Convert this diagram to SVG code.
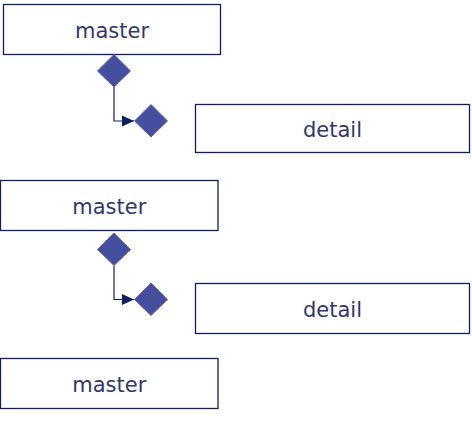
<svg xmlns="http://www.w3.org/2000/svg" width="472" height="422" viewBox="0 0 472 422">
<style>
.box{fill:#ffffff;stroke:#0f2060;stroke-width:1.3}
.lbl{font-family:"DejaVu Sans",Verdana,sans-serif;font-size:21px;fill:#31386a;text-anchor:middle}
.dia{fill:#454f9e;stroke:#5a64b0;stroke-width:1}
.conn{fill:none;stroke:#0f2060;stroke-width:1.2}
</style>
<defs>
<marker id="arr" viewBox="0 0 12 12" refX="12" refY="6" markerWidth="12" markerHeight="12" markerUnits="userSpaceOnUse" orient="auto">
<path d="M0,0.5 L12,6 L0,11.5 Z" fill="#0f2060"/>
</marker>
</defs>
<g id="connectors">
<path class="conn" d="M114,87 V121 H134" marker-end="url(#arr)"/>
<path class="conn" d="M114,265.5 V299.5 H134" marker-end="url(#arr)"/>
</g>
<g id="master1"><rect class="box" x="3.5" y="4.5" width="217" height="50"/><text class="lbl" x="112" y="38">master</text></g>
<g id="detail1"><rect class="box" x="195.5" y="104.5" width="274" height="48"/><text class="lbl" x="332.5" y="136.5">detail</text></g>
<g id="master2"><rect class="box" x="0.5" y="180.5" width="217.5" height="50"/><text class="lbl" x="109.3" y="213.5">master</text></g>
<g id="detail2"><rect class="box" x="195.5" y="283.5" width="274" height="50"/><text class="lbl" x="332.5" y="316.8">detail</text></g>
<g id="master3"><rect class="box" x="0.5" y="358.5" width="217.5" height="50"/><text class="lbl" x="109.3" y="391.7">master</text></g>
<g id="diamond1"><path class="dia" d="M114,54.5 L130.5,71 L114,87 L97.5,71 Z"/></g>
<g id="diamond2"><path class="dia" d="M151,104.5 L167.5,121 L151,137 L134.5,121 Z"/></g>
<g id="diamond3"><path class="dia" d="M114,233 L130.5,249.5 L114,265.5 L97.5,249.5 Z"/></g>
<g id="diamond4"><path class="dia" d="M151,283 L167.5,299.5 L151,315.5 L134.5,299.5 Z"/></g>
</svg>
